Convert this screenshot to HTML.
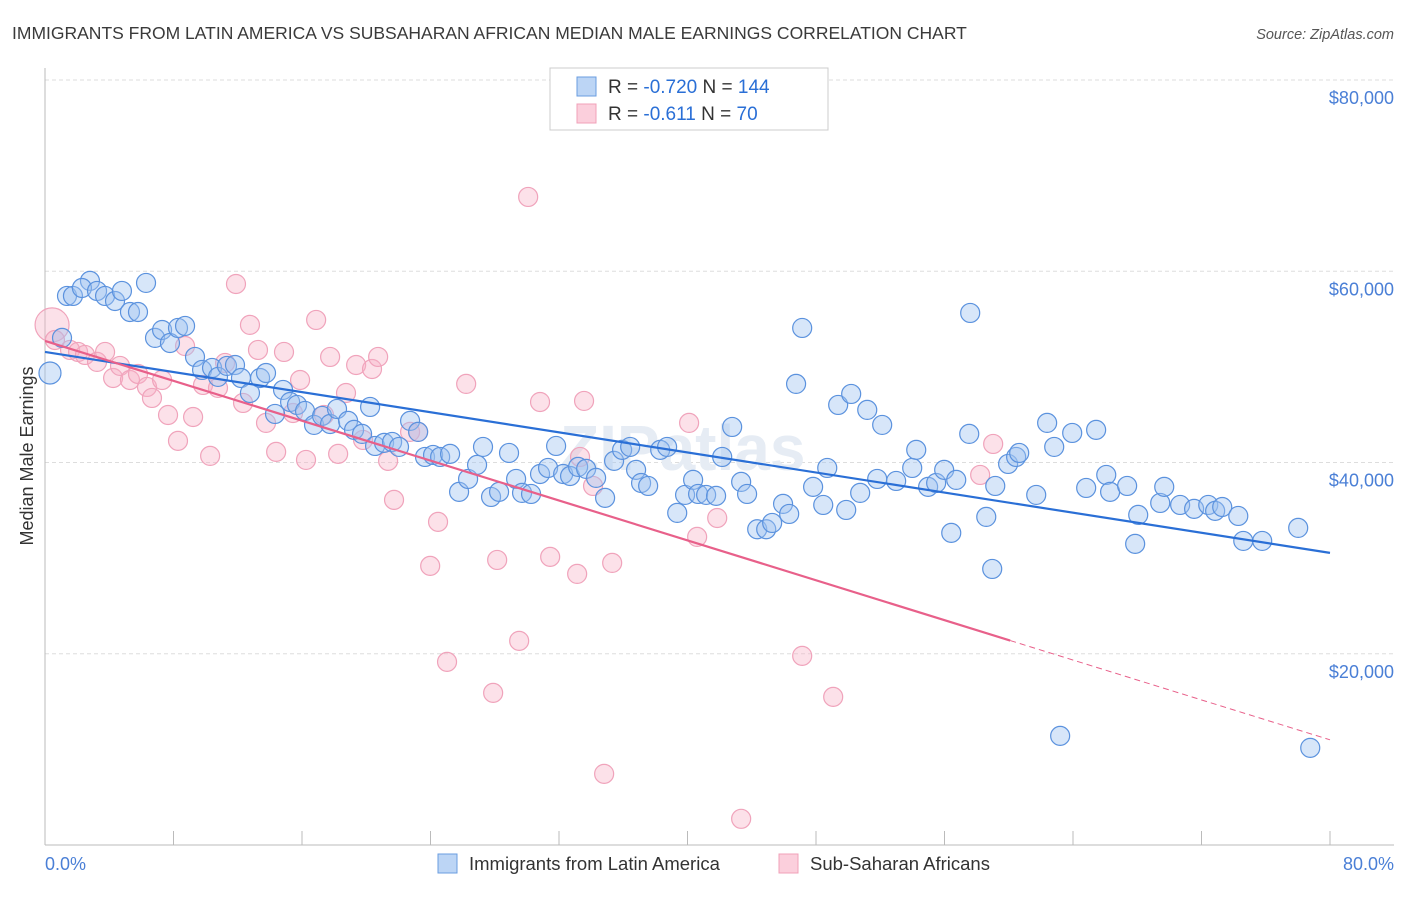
<!DOCTYPE html>
<html><head><meta charset="utf-8"><style>
body{margin:0;background:#fff;font-family:"Liberation Sans",sans-serif}
svg text{font-family:"Liberation Sans",sans-serif}
</style></head><body>
<svg id="chart" width="1406" height="892" xmlns="http://www.w3.org/2000/svg">
<text x="12" y="39" font-size="17.5" fill="#3a3a3a">IMMIGRANTS FROM LATIN AMERICA VS SUBSAHARAN AFRICAN MEDIAN MALE EARNINGS CORRELATION CHART</text>
<text x="1394" y="39" font-size="14.5" fill="#555" text-anchor="end" font-style="italic">Source: ZipAtlas.com</text>
<g id="grid"></g>
<text x="560" y="470" font-size="64" font-weight="bold" fill="#e6ecf4">ZIPatlas</text>
<line x1="45" y1="68" x2="45" y2="845" stroke="#bbb"/>
<line x1="45" y1="845" x2="1394" y2="845" stroke="#bbb"/>
<g id="xticks"></g>
<text x="33" y="456" font-size="18" fill="#333" text-anchor="middle" transform="rotate(-90 33 456)">Median Male Earnings</text>
<text x="45" y="870" font-size="18" fill="#4a7fd6">0.0%</text>
<text x="1394" y="870" font-size="18" fill="#4a7fd6" text-anchor="end">80.0%</text>
<g id="pinkpts"></g><g id="bluepts"></g><g id="lines"></g>
<g>
<rect x="550" y="68" width="278" height="62" fill="#fff" stroke="#ccc"/>
<rect x="577" y="77" width="19" height="19" fill="#bcd5f5" stroke="#6a9de0"/>
<rect x="577" y="104" width="19" height="19" fill="#fbcfdc" stroke="#f0a0b8"/>
<text x="608" y="93" font-size="19" fill="#333">R = <tspan fill="#2a6fd6">-0.720</tspan>   N = <tspan fill="#2a6fd6">144</tspan></text>
<text x="608" y="120" font-size="19" fill="#333">R =  <tspan fill="#2a6fd6">-0.611</tspan>   N =  <tspan fill="#2a6fd6">70</tspan></text>
</g>
<g>
<rect x="438" y="854" width="19" height="19" fill="#bcd5f5" stroke="#6a9de0"/>
<text x="469" y="870" font-size="18.5" fill="#333">Immigrants from Latin America</text>
<rect x="779" y="854" width="19" height="19" fill="#fbcfdc" stroke="#f0a0b8"/>
<text x="810" y="870" font-size="18.5" fill="#333">Sub-Saharan Africans</text>
</g>
</svg>
<script>
const yTicks=[20000,40000,60000,80000];
const yTickLabels=["$20,000","$40,000","$60,000","$80,000"];
const xTicks=[0,8,16,24,32,40,48,56,64,72,80];
const blueX=[0.31,1.06,1.37,1.74,2.80,2.30,3.24,3.74,4.36,4.79,5.29,5.79,6.29,6.85,7.29,7.78,8.28,8.72,9.34,9.78,10.40,10.77,11.33,11.83,12.20,12.76,13.39,13.76,14.32,14.82,15.26,15.69,16.19,16.75,17.25,17.75,18.18,18.87,19.24,19.74,20.24,20.55,21.11,21.61,22.04,22.73,23.23,23.66,24.16,24.60,25.22,25.78,26.34,26.90,27.27,27.77,28.27,28.89,29.33,29.70,30.26,30.82,31.32,31.82,32.26,32.69,33.19,33.69,34.31,34.87,35.43,35.93,36.43,36.80,37.11,37.55,38.30,38.73,39.36,39.85,40.35,40.66,41.16,41.78,42.16,42.78,43.34,43.71,44.34,44.90,45.27,45.95,46.33,46.76,47.14,47.82,48.45,48.70,49.38,49.88,50.19,50.75,51.19,51.81,52.12,52.99,53.99,54.24,54.98,55.48,55.98,56.42,56.73,57.54,57.60,58.60,58.97,59.16,59.96,60.46,60.65,61.71,62.39,62.83,63.20,63.95,64.82,65.44,66.07,66.31,67.37,67.87,68.06,69.43,69.68,70.67,71.54,72.42,72.85,73.29,74.29,74.60,75.78,78.02,78.77];
const blueY=[49.36,53.03,57.42,57.42,58.99,58.25,57.94,57.42,56.89,57.94,55.74,55.74,58.78,53.03,53.86,52.50,54.07,54.28,51.04,49.68,49.89,48.95,50.10,50.20,48.84,47.27,48.84,49.36,45.08,47.59,46.33,46.02,45.39,43.93,44.87,44.03,45.60,44.35,43.41,42.99,45.81,41.73,42.05,42.15,41.63,44.35,43.20,40.58,40.79,40.58,40.90,36.93,38.28,39.75,41.63,36.40,36.93,41.00,38.28,36.82,36.71,38.80,39.43,41.73,38.80,38.59,39.54,39.33,38.39,36.30,40.17,41.32,41.63,39.23,37.86,37.55,41.32,41.63,34.73,36.61,38.18,36.71,36.61,36.51,40.58,43.72,37.97,36.71,33.02,33.02,33.68,35.67,34.62,48.22,54.07,37.45,35.56,39.43,46.02,35.04,47.17,36.82,45.50,38.28,43.93,38.07,39.43,41.32,37.45,37.86,39.23,32.64,38.18,42.99,55.64,34.31,28.87,37.55,39.85,40.58,41.00,36.61,44.14,41.63,11.41,43.09,37.34,43.41,38.70,36.93,37.55,31.49,34.52,35.77,37.45,35.56,35.15,35.56,34.94,35.35,34.41,31.80,31.80,33.16,10.16];
const pinkX=[0.44,0.62,1.56,2.06,2.49,3.24,3.74,4.24,4.67,5.29,5.79,6.35,6.66,7.29,7.66,8.28,8.72,9.22,9.84,10.28,10.77,11.21,11.89,12.33,12.76,13.26,13.76,14.39,14.88,15.44,15.88,16.25,16.88,17.37,17.75,18.25,18.74,19.37,19.80,20.36,20.74,21.36,21.73,22.73,23.23,23.98,24.47,25.03,26.22,27.90,28.15,29.52,30.08,30.82,31.45,33.13,33.31,33.56,34.12,34.81,35.31,40.10,40.60,41.85,43.34,47.14,49.07,59.03,58.22];
const pinkY=[54.39,52.81,51.77,51.56,51.25,50.52,51.56,48.84,50.10,48.63,49.26,47.90,46.75,48.63,44.97,42.26,52.18,44.76,48.11,40.69,47.80,50.41,58.67,46.23,54.39,51.77,44.14,41.11,51.56,45.18,48.63,40.27,54.91,44.97,51.04,40.90,47.27,50.20,42.36,49.78,51.04,40.17,36.09,43.20,43.20,29.19,33.79,19.15,48.22,15.91,29.81,21.35,67.77,46.33,30.13,28.35,40.58,46.44,37.55,7.44,29.50,44.14,32.22,34.20,2.74,19.78,15.49,41.94,38.70];
const blueTrend=[51.56,30.55];
const pinkTrend=[52.71,11.0];
const pinkSolidEnd=60.09;
const NS="http://www.w3.org/2000/svg";
function xs(p){return 45+p*(1330-45)/80;}
function ys(k){return 845-k*1000*(845-80)/80000;}
function mk(tag,attrs,parent){const e=document.createElementNS(NS,tag);for(const k in attrs)e.setAttribute(k,attrs[k]);parent.appendChild(e);return e;}
const grid=document.getElementById('grid');
yTicks.forEach((v,i)=>{const y=ys(v/1000);
const l=mk('line',{x1:45,x2:1394,y1:y,y2:y,stroke:'#ddd','stroke-dasharray':'4,3'},grid);


const t=mk('text',{x:1394,y:y+24,'font-size':18,fill:'#4a7fd6','text-anchor':'end'},grid);
t.textContent=yTickLabels[i];

});
const xt=document.getElementById('xticks');
xTicks.forEach(p=>{const x=xs(p);
const l=mk('line',{x1:x,x2:x,y1:831,y2:845,stroke:'#bbb'},xt);

});
function pts(X,Y,g,fill,stroke,name){X.forEach((x,i)=>{const r=(i===0&&name==='pink-point')?17:(i===0?11:9.5);
const c=mk('circle',{cx:xs(x),cy:ys(Y[i]),r:r,fill:fill,stroke:stroke,'stroke-width':1.2},g);

});}
pts(pinkX,pinkY,document.getElementById('pinkpts'),'rgba(248,175,198,0.38)','#f0a3bb','pink-point');
pts(blueX,blueY,document.getElementById('bluepts'),'rgba(160,196,240,0.42)','#5b92de','blue-point');
const lg=document.getElementById('lines');
const bl=mk('line',{x1:xs(0),y1:ys(blueTrend[0]),x2:xs(80),y2:ys(blueTrend[1]),stroke:'#2a6fd6','stroke-width':2.2},lg);


const pm=pinkTrend[0]+(pinkTrend[1]-pinkTrend[0])*pinkSolidEnd/80;
const pl=mk('line',{x1:xs(0),y1:ys(pinkTrend[0]),x2:xs(pinkSolidEnd),y2:ys(pm),stroke:'#e8608a','stroke-width':2.2},lg);


const pd=mk('line',{x1:xs(pinkSolidEnd),y1:ys(pm),x2:xs(80),y2:ys(pinkTrend[1]),stroke:'#e8608a','stroke-width':1,'stroke-dasharray':'6,4'},lg);


</script>
</body></html>
